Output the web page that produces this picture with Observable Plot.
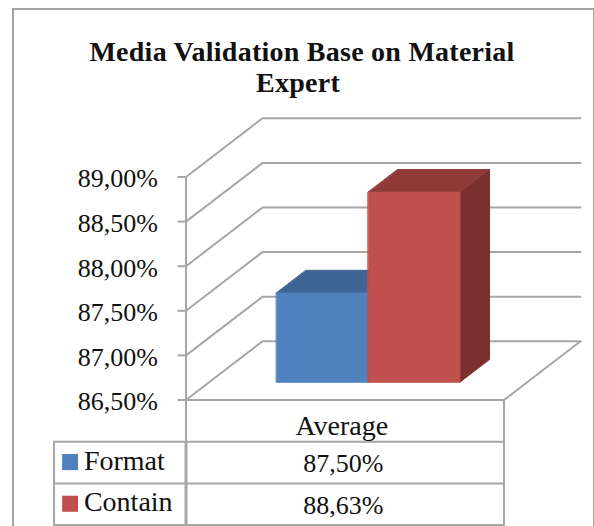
<!DOCTYPE html>
<html>
<head>
<meta charset="utf-8">
<script src="https://cdn.jsdelivr.net/npm/d3@7"></script>
<script src="https://cdn.jsdelivr.net/npm/@observablehq/plot@0.6"></script>
<style>
  html, body { margin: 0; padding: 0; background: #fff; overflow: hidden; }
  #frame { position: relative; width: 594px; height: 526px; overflow: hidden; }
  #border { position: absolute; left: 11.5px; top: 7.5px; width: 579px; height: 540px; border: 2px solid #a3a3a3; box-sizing: content-box; }
  #title { position: absolute; left: 12px; top: 36px; width: 580px; text-align: center; font: bold 28px/31px "Liberation Serif", serif; letter-spacing: 0.25px; color: #111; }
  #title span { position: relative; left: -4px; }
  #chart { position: absolute; left: 0; top: 100px; }
  g[aria-label="words"] text { letter-spacing: 0.8px; }
</style>
</head>
<body>
<div id="frame">
  <div id="border"></div>
  <div id="title">Media Validation Base on Material<br><span>Expert</span></div>
  <div id="chart"></div>
</div>
<script>
const category = "Average";
const seriesNames = ["Format", "Contain"];
const seriesValues = [87.5, 88.63];
const seriesLabels = ["87,50%", "88,63%"];
const yTicks = [86.5, 87, 87.5, 88, 88.5, 89];

// Oblique projection of (x, value, depth) onto the plot's x and y scales
const base = yTicks[0], depthX = 0.2406, depthY = 0.658;
const P = (x, v, z) => ({x: x + z * depthX, y: v + z * depthY});

// Bar block in chart units
const barStart = 0.2116, barWidth = 0.2884, z0 = 0.303, z1 = 0.69;
const seriesStyles = [
  {front: "#4f81bd", top: "#3f6392", side: "#38608f"},
  {front: "#c0504d", top: "#8f3b39", side: "#7a302e"}
];

// Data table in chart units
const rowStep = 0.4675, tableLeft = -0.415;
const rowY = r => base - r * rowStep;

const grey = "#a6a6a6";
const poly = (pts, fill) => Plot.line(pts, {x: "x", y: "y", fill, stroke: fill, strokeWidth: 1, curve: "linear-closed"});
const path = (pts, strokeWidth = 2, stroke = grey) => Plot.line(pts, {x: "x", y: "y", stroke, strokeWidth});

const marks = [];

// walls and floor
for (const t of yTicks) marks.push(path([P(0, t, 0), P(0, t, 1), P(1, t, 1)]));
marks.push(path([P(1, base, 1), P(1, base, 0), P(0, base, 0)]));
marks.push(path([P(0, base, 0), P(0, yTicks[5], 0)]));

// bars (drawn back to front from left to right)
seriesValues.forEach((v, i) => {
  const a = barStart + i * barWidth, b = a + barWidth, s = seriesStyles[i];
  marks.push(poly([P(b, base, z0), P(b, base, z1), P(b, v, z1), P(b, v, z0)], s.side));
  marks.push(poly([P(a, v, z0), P(b, v, z0), P(b, v, z1), P(a, v, z1)], s.top));
  marks.push(poly([P(a, base, z0), P(b, base, z0), P(b, v, z0), P(a, v, z0)], s.front));
});

// y axis: tick marks, then labels nudged down to the reference's baseline
marks.push(Plot.axisY({
  ticks: yTicks,
  tickFormat: () => "",
  tickSize: 8,
  label: null,
  stroke: grey,
  strokeWidth: 2
}));
marks.push(Plot.axisY({
  ticks: yTicks,
  tickFormat: d => d.toFixed(2).replace(".", ",") + "%",
  tickSize: 0,
  tickPadding: 28,
  label: null,
  fill: "#111",
  fontSize: 26,
  dy: 2
}));

// data table
[1, 2, 3].forEach(r => marks.push(path([{x: tableLeft, y: rowY(r)}, {x: 1, y: rowY(r)}])));
marks.push(path([{x: tableLeft, y: rowY(1)}, {x: tableLeft, y: rowY(3)}]));
marks.push(path([{x: 0, y: rowY(0)}, {x: 0, y: rowY(1)}]));
marks.push(path([{x: 0, y: rowY(1)}, {x: 0, y: rowY(3)}], 3));
marks.push(path([{x: 1, y: rowY(0)}, {x: 1, y: rowY(3)}]));

const tableRows = seriesNames.map((name, i) => ({
  name, label: seriesLabels[i], color: seriesStyles[i].front, r: i + 1.5
}));
marks.push(Plot.rect(tableRows, {
  x1: () => -0.388, x2: () => -0.338,
  y1: d => rowY(d.r) - 0.09, y2: d => rowY(d.r) + 0.09,
  fill: "color"
}));
marks.push(Plot.text(tableRows, {
  x: () => -0.321, y: d => rowY(d.r), text: "name",
  textAnchor: "start", fontSize: 28, fill: "#111", dy: -2, ariaLabel: "words"
}));
marks.push(Plot.text(tableRows, {
  x: () => 0.495, y: d => rowY(d.r), text: "label",
  fontSize: 26, fill: "#111", dy: 1
}));
marks.push(Plot.text([category], {
  x: () => 0.49, y: () => rowY(0.5), text: d => d,
  fontSize: 28, fill: "#111", dy: 5, ariaLabel: "words"
}));

const chart = Plot.plot({
  width: 594,
  height: 426,
  marginLeft: 185.5,
  marginRight: 90.5,
  marginTop: 0,
  marginBottom: 0,
  style: {fontFamily: '"Liberation Serif", serif', background: "transparent", overflow: "visible"},
  x: {domain: [0, 1], axis: null},
  y: {domain: [base, yTicks[5]], range: [299.5, 76.5], axis: null},
  marks
});
document.getElementById("chart").appendChild(chart);
</script>
</body>
</html>
